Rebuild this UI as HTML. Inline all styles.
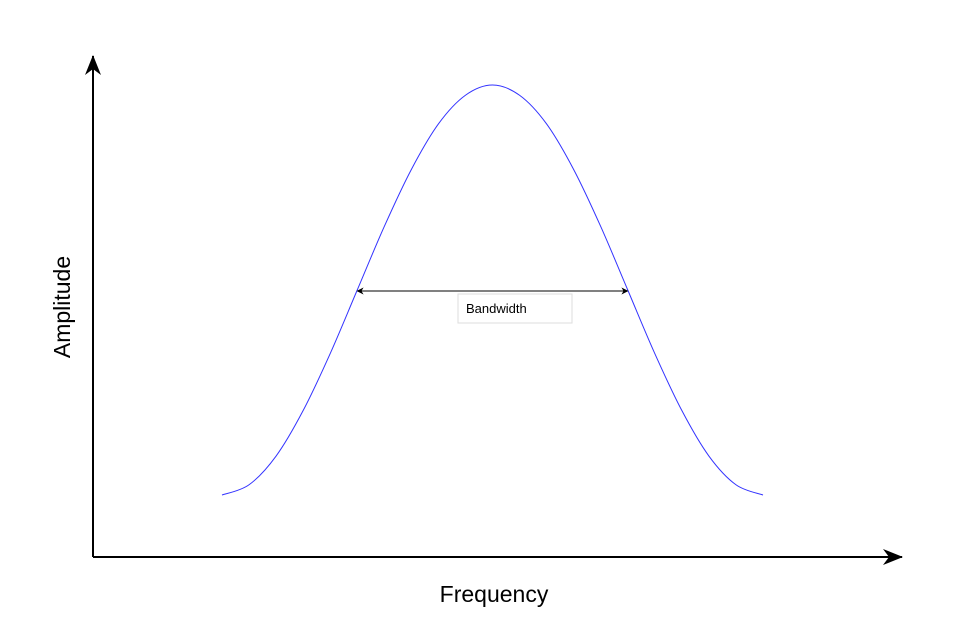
<!DOCTYPE html>
<html><head><meta charset="utf-8"><style>
html,body{margin:0;padding:0;background:#fff;}
svg{display:block;font-family:"Liberation Sans",Arial,sans-serif;}
</style></head><body>
<svg id="chart" width="954" height="638" viewBox="0 0 954 638">
<defs>
<marker id="ah" viewBox="0 0 10 10" refX="9" refY="5" markerWidth="7" markerHeight="7" orient="auto-start-reverse" markerUnits="userSpaceOnUse">
<path d="M0,0 L10,5 L0,10 L3,5 z" fill="#000"/></marker>
<marker id="big" viewBox="0 0 20 20" refX="19" refY="10" markerWidth="20" markerHeight="20" orient="auto" markerUnits="userSpaceOnUse">
<path d="M0,2 L20,10 L0,18 L6,10 z" fill="#000"/></marker>
</defs>
<line x1="93" y1="557" x2="93" y2="56" stroke="#000" stroke-width="2" marker-end="url(#big)"/>
<line x1="93" y1="557" x2="902" y2="557" stroke="#000" stroke-width="2" marker-end="url(#big)"/>
<text x="70" y="307" font-size="23" text-anchor="middle" transform="rotate(-90 70 307)">Amplitude</text>
<text x="494" y="602" font-size="23" text-anchor="middle">Frequency</text>
<path id="curve" fill="none" stroke="#3333ff" stroke-width="1"/>
<line id="bw" stroke="#000" stroke-width="1" marker-start="url(#ah)" marker-end="url(#ah)"/>
<rect x="458" y="294" width="114" height="29" fill="#fff" stroke="#ddd"/>
<text x="466" y="313" font-size="13">Bandwidth</text>
</svg>
<script>
const freq=[0,0.05,0.1,0.15,0.2,0.25,0.3,0.35,0.4,0.45,0.5,0.55,0.6,0.65,0.7,0.75,0.8,0.85,0.9,0.95,1];
const amp=[0,0.025,0.095,0.206,0.345,0.5,0.655,0.794,0.905,0.975,1,0.975,0.905,0.794,0.655,0.5,0.345,0.206,0.095,0.025,0];
const bandStart=[0.25];
const bandEnd=[0.75];
const bandLevel=[0.5];
const xs=f=>222+f*541;
const ys=a=>495-a*410;
const pts=freq.map((f,i)=>[xs(f),ys(amp[i])]);
let d=`M${pts[0][0]},${pts[0][1]}`;
for(let i=0;i<pts.length-1;i++){
 const p0=pts[Math.max(0,i-1)],p1=pts[i],p2=pts[i+1],p3=pts[Math.min(pts.length-1,i+2)];
 const c1=[p1[0]+(p2[0]-p0[0])/6,p1[1]+(p2[1]-p0[1])/6];
 const c2=[p2[0]-(p3[0]-p1[0])/6,p2[1]-(p3[1]-p1[1])/6];
 d+=` C${c1[0]},${c1[1]} ${c2[0]},${c2[1]} ${p2[0]},${p2[1]}`;
}
document.getElementById('curve').setAttribute('d',d);
const bw=document.getElementById('bw');
bw.setAttribute('x1',xs(bandStart[0]));bw.setAttribute('x2',xs(bandEnd[0]));
bw.setAttribute('y1',ys(bandLevel[0])+1);bw.setAttribute('y2',ys(bandLevel[0])+1);
</script>
</body></html>
